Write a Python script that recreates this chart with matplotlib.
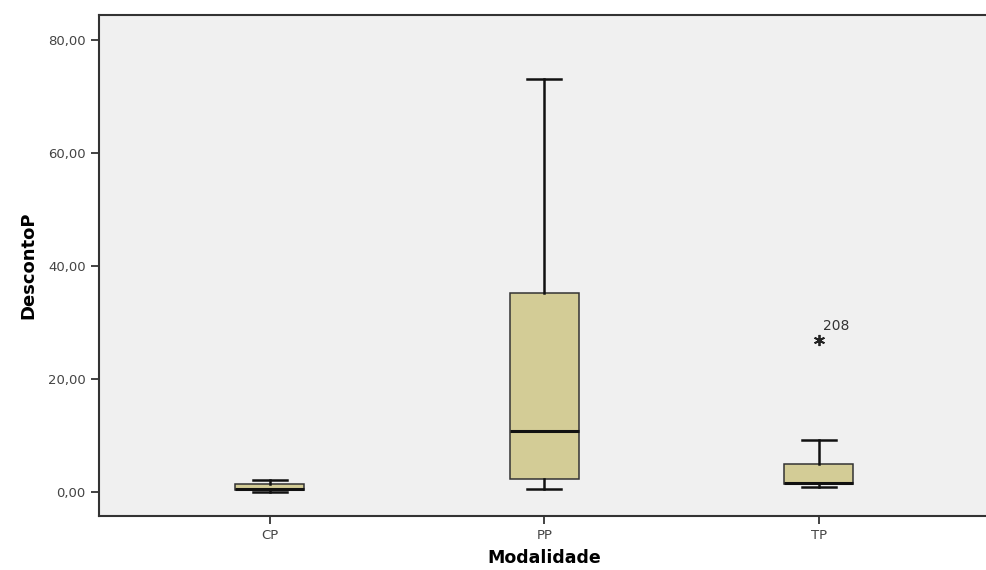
import matplotlib
matplotlib.use("Agg")
import matplotlib.pyplot as plt
from matplotlib.ticker import FuncFormatter

# box statistics
groups = ["CP", "PP", "TP"]
whislo = [0.0, 0.4, 0.9]
q1 = [0.3, 2.2, 1.3]
med = [0.5, 10.8, 1.5]
q3 = [1.3, 35.2, 4.9]
whishi = [2.1, 73.0, 9.1]
outliers = [[], [], [26.9]]
outlier_ids = [[], [], ["208"]]

stats = []
for i in range(len(groups)):
    stats.append({"label": groups[i], "whislo": whislo[i], "q1": q1[i], "med": med[i],
                  "q3": q3[i], "whishi": whishi[i], "fliers": []})

fig = plt.figure(figsize=(9.87, 5.70), dpi=100)
ax = fig.add_axes([99 / 987, 54 / 570, 890 / 987, 501 / 570])
ax.set_facecolor("#f0f0f0")

pos = [1, 2, 3]
ax.bxp(stats, positions=pos, widths=0.25, patch_artist=True, showfliers=False,
       boxprops=dict(facecolor="#d3cc96", edgecolor="#333333", linewidth=1.1),
       medianprops=dict(color="#111111", linewidth=2.2),
       whiskerprops=dict(color="#111111", linewidth=1.8),
       capprops=dict(color="#111111", linewidth=1.8), capwidths=0.125)

for i, pts in enumerate(outliers):
    for v, lab in zip(pts, outlier_ids[i]):
        ax.plot(pos[i], v, marker=(6, 2, 0), color="#222222", markersize=8,
                markeredgewidth=1.3, linestyle="none")
        ax.annotate(lab, (pos[i], v), xytext=(3, 7), textcoords="offset points",
                    fontsize=10, color="#333333")

ax.set_xlim(0.378, 3.62)
ax.set_ylim(-4.3, 84.4)
ax.set_yticks([0, 20, 40, 60, 80])
ax.yaxis.set_major_formatter(FuncFormatter(lambda v, p: f"{v:.2f}".replace(".", ",")))
ax.tick_params(axis="both", colors="#222222", labelcolor="#444444", labelsize=9.5,
               length=6, width=1.2)

for s in ["left", "top", "bottom"]:
    ax.spines[s].set_color("#333333")
    ax.spines[s].set_linewidth(1.5)
ax.spines["right"].set_visible(False)

ax.set_ylabel("DescontoP", fontsize=13, fontweight="bold", family="Liberation Sans Narrow",
              labelpad=8)
ax.set_xlabel("Modalidade", fontsize=12.5, fontweight="bold", labelpad=5)

fig.savefig("out.png", dpi=100)
